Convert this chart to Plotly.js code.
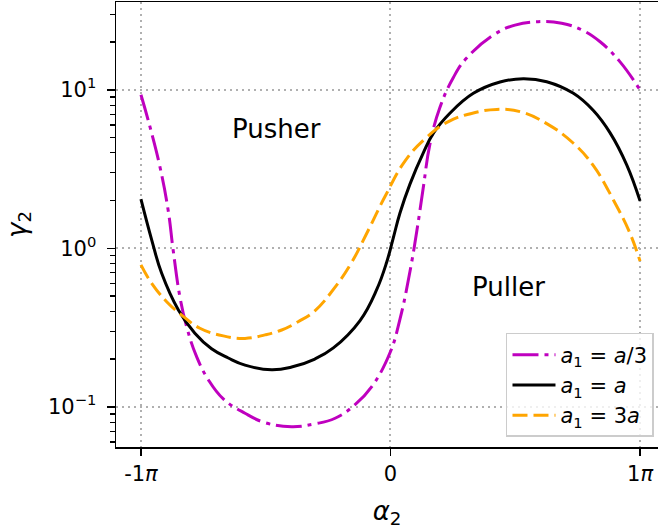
<!DOCTYPE html>
<html><head><meta charset="utf-8">
<script src="https://cdn.plot.ly/plotly-3.0.1.min.js"></script>
<style>html,body{margin:0;padding:0;background:#fff}</style>
</head><body><div id="chart" style="width:658px;height:529px"></div>
<script>
// alpha_2 in units of pi, gamma_2 values
const alphaThird = [-1, -0.964, -0.924, -0.891, -0.871, -0.844, -0.817, -0.777, -0.73, -0.67, -0.583, -0.503, -0.396, -0.303, -0.222, -0.142, -0.075, -0.002, 0.038, 0.078, 0.105, 0.131, 0.158, 0.198, 0.252, 0.305, 0.419, 0.499, 0.592, 0.686, 0.766, 0.84, 0.92, 1];
const gammaThird = [9.3, 5.85, 3.27, 1.74, 0.976, 0.495, 0.32, 0.207, 0.148, 0.112, 0.091, 0.0794, 0.0749, 0.078, 0.0846, 0.103, 0.134, 0.219, 0.357, 0.714, 1.27, 2.39, 4.54, 7.73, 11.97, 15.85, 22.5, 25.6, 26.9, 26.3, 23.9, 20.1, 15.0, 9.97];

const alphaOne = [-1, -0.957, -0.917, -0.85, -0.784, -0.717, -0.65, -0.583, -0.476, -0.396, -0.303, -0.229, -0.122, -0.055, -0.015, 0.011, 0.038, 0.078, 0.131, 0.172, 0.238, 0.332, 0.439, 0.532, 0.626, 0.733, 0.813, 0.88, 0.947, 1];
const gammaOne = [2.04, 1.13, 0.695, 0.408, 0.291, 0.232, 0.203, 0.183, 0.171, 0.178, 0.2, 0.235, 0.35, 0.55, 0.82, 1.16, 1.67, 2.54, 3.98, 5.33, 7.11, 9.5, 11.2, 11.75, 11.25, 9.5, 7.4, 5.35, 3.35, 1.99];

const alphaThree = [-1, -0.957, -0.891, -0.837, -0.764, -0.67, -0.583, -0.503, -0.436, -0.37, -0.303, -0.222, -0.156, -0.089, -0.022, 0.058, 0.145, 0.232, 0.332, 0.426, 0.519, 0.626, 0.733, 0.813, 0.893, 0.96, 1];
const gammaThree = [0.785, 0.601, 0.45, 0.379, 0.313, 0.28, 0.27, 0.284, 0.305, 0.344, 0.403, 0.569, 0.813, 1.3, 2.12, 3.55, 5.01, 6.3, 7.14, 7.52, 7.28, 6.12, 4.6, 3.32, 2.02, 1.24, 0.83];

const seriesNames = ["<i>a</i><sub>1</sub> = <i>a</i>/3", "<i>a</i><sub>1</sub> = <i>a</i>", "<i>a</i><sub>1</sub> = 3<i>a</i>"];
const xTickVals = [-1, 0, 1];
const xTickText = ["-1<i>π</i>", "0", "1<i>π</i>"];
const yTickVals = [0.1, 1, 10];
const yTickText = ["10<sup>−1</sup>", "10<sup>0</sup>", "10<sup>1</sup>"];
const yMinorVals = [0.06, 0.07, 0.08, 0.09, 0.2, 0.3, 0.4, 0.5, 0.6, 0.7, 0.8, 0.9, 2, 3, 4, 5, 6, 7, 8, 9, 20, 30];

const FONT = "DejaVu Sans, Verdana, sans-serif";
const traces = [
  {x: alphaThird, y: gammaThird, name: seriesNames[0], mode: "lines",
   line: {color: "#bf00bf", width: 3, dash: "26px,6px,4px,6px", shape: "spline", smoothing: 1.2}},
  {x: alphaOne, y: gammaOne, name: seriesNames[1], mode: "lines",
   line: {color: "#000000", width: 3, shape: "spline", smoothing: 1.2}},
  {x: alphaThree, y: gammaThree, name: seriesNames[2], mode: "lines",
   line: {color: "#ffa500", width: 3, dash: "15px,6px", shape: "spline", smoothing: 1.2}}
];

const layout = {
  width: 658, height: 529,
  margin: {l: 116, r: 0, t: 2, b: 82},
  paper_bgcolor: "#ffffff", plot_bgcolor: "#ffffff",
  font: {family: FONT, size: 21, color: "#000"},
  showlegend: true,
  xaxis: {
    range: [-1.1, 1.072], tickvals: xTickVals, ticktext: xTickText,
    showline: true, linecolor: "#000", linewidth: 1.5, mirror: true,
    ticks: "outside", ticklen: 7, tickwidth: 1.5, tickcolor: "#000",
    showgrid: true, gridcolor: "#b0b0b0", gridwidth: 2, griddash: "2px,4px",
    zeroline: false, tickfont: {size: 21},
    title: {text: "<i>α</i><sub>2</sub>", font: {size: 26}, standoff: 18}
  },
  yaxis: {
    type: "log", range: [-1.254, 1.554], tickvals: yTickVals, ticktext: yTickText,
    showline: true, linecolor: "#000", linewidth: 1.5, mirror: false,
    ticks: "outside", ticklen: 8, tickwidth: 1.5, tickcolor: "#000",
    showgrid: true, gridcolor: "#b0b0b0", gridwidth: 2, griddash: "2px,4px",
    zeroline: false, tickfont: {size: 21}, ticklabelstandoff: 6,
    minor: {tickvals: yMinorVals, ticks: "outside", ticklen: 4.5, tickwidth: 1.2, tickcolor: "#000", showgrid: false},
    title: {text: "<i>γ</i><sub>2</sub>", font: {size: 26}, standoff: 14}
  },
  legend: {
    x: 0.9926, xanchor: "right", y: 0.0225, yanchor: "bottom",
    bgcolor: "rgba(255,255,255,0.8)", bordercolor: "#cccccc", borderwidth: 1.5,
    font: {family: FONT, size: 21}, itemwidth: 43
  },
  annotations: [
    {x: -0.455, y: 0.753, xref: "x", yref: "y", text: "Pusher", showarrow: false, font: {size: 26}},
    {x: 0.471, y: -0.244, xref: "x", yref: "y", text: "Puller", showarrow: false, font: {size: 26}}
  ]
};

Plotly.newPlot("chart", traces, layout, {displayModeBar: false, staticPlot: true});
</script></body></html>
